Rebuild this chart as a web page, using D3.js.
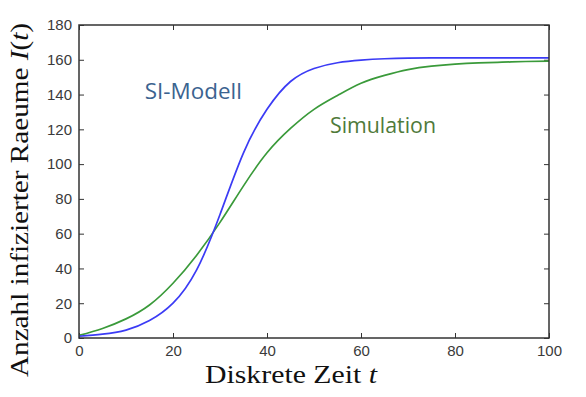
<!DOCTYPE html>
<html>
<head>
<meta charset="utf-8">
<script src="https://cdn.jsdelivr.net/npm/d3@7"></script>
<style>
  html, body { margin: 0; padding: 0; background: #fff; }
  svg { display: block; }
</style>
</head>
<body>
<div id="chart"></div>
<script>
// Zeitschritte und Werte
var timeSteps  = [0, 5, 10, 15, 20, 25, 30, 35, 40, 45, 50, 55, 60, 65, 70, 75, 80, 85, 90, 95, 100];
var siModell   = [1, 2.2, 4.5, 10, 20, 39, 71, 106.5, 131.5, 147.5, 155, 158.3, 159.8, 160.6, 161, 161.1, 161.1, 161.1, 161.1, 161.1, 161.1];
var simulation = [1.5, 5.5, 11, 19, 31.5, 47.5, 66.5, 87.5, 106.5, 120.5, 131.5, 139.5, 146.5, 151, 154.3, 156.3, 157.5, 158.2, 158.6, 159, 159.2];

var xTicks = [0, 20, 40, 60, 80, 100];
var yTicks = [0, 20, 40, 60, 80, 100, 120, 140, 160, 180];

var labels = [
  {text: "SI-Modell",  t: 14,   v: 137.5, color: "#3b6390", len: 97},
  {text: "Simulation", t: 53.4, v: 118,   color: "#4f7a3a", len: 106}
];

var W = 586, H = 397;
var margin = {left: 79, right: 37, top: 25, bottom: 59};
var w = W - margin.left - margin.right,
    h = H - margin.top - margin.bottom;

var svg = d3.select("#chart").append("svg")
  .attr("width", W)
  .attr("height", H);

var g = svg.append("g")
  .attr("transform", "translate(" + margin.left + "," + margin.top + ")");

var x = d3.scaleLinear().domain([0, 100]).range([0, w]);
var y = d3.scaleLinear().domain([0, 180]).range([h, 0]);

var tickFont = "'Liberation Sans', Arial, sans-serif";
var tickColor = "#3a3a3a";

function styleAxis(sel) {
  sel.select(".domain").remove();
  sel.selectAll("line").attr("stroke", "#333").attr("stroke-width", 1);
  sel.selectAll("text")
    .attr("font-family", tickFont)
    .attr("font-size", 15)
    .attr("fill", tickColor);
}

g.append("g")
  .attr("transform", "translate(0," + h + ")")
  .call(d3.axisBottom(x).tickValues(xTicks).tickSizeInner(-5).tickSizeOuter(0).tickPadding(7))
  .call(styleAxis);

g.append("g")
  .call(d3.axisLeft(y).tickValues(yTicks).tickSizeInner(-5).tickSizeOuter(0).tickPadding(7))
  .call(styleAxis);

g.append("g")
  .call(d3.axisTop(x).tickValues(xTicks).tickSizeInner(-5).tickSizeOuter(0).tickFormat(""))
  .call(styleAxis);

g.append("g")
  .attr("transform", "translate(" + w + ",0)")
  .call(d3.axisRight(y).tickValues(yTicks).tickSizeInner(-5).tickSizeOuter(0).tickFormat(""))
  .call(styleAxis);

var line = d3.line()
  .x(function(d){ return x(d[0]); })
  .y(function(d){ return y(d[1]); })
  .curve(d3.curveNatural);

g.append("path")
  .attr("d", line(d3.zip(timeSteps, simulation)))
  .attr("fill", "none")
  .attr("stroke", "#3a9a3a")
  .attr("stroke-width", 1.7);

g.append("path")
  .attr("d", line(d3.zip(timeSteps, siModell)))
  .attr("fill", "none")
  .attr("stroke", "#3b3bf5")
  .attr("stroke-width", 1.7);

// Rahmen
g.append("rect")
  .attr("width", w)
  .attr("height", h)
  .attr("fill", "none")
  .attr("stroke", "#333")
  .attr("stroke-width", 1.5);

// Beschriftungen im Diagramm
g.selectAll("text.anno")
  .data(labels)
  .enter().append("text")
  .attr("class", "anno")
  .attr("x", function(d){ return x(d.t); })
  .attr("y", function(d){ return y(d.v); })
  .attr("font-family", "'Open Sans', 'Noto Sans', sans-serif")
  .attr("font-size", 21)
  .attr("fill", function(d){ return d.color; })
  .attr("textLength", function(d){ return d.len; })
  .attr("lengthAdjust", "spacingAndGlyphs")
  .text(function(d){ return d.text; });

// Achsentitel
var serif = "'Liberation Serif', 'DejaVu Serif', serif";

var xl = svg.append("text")
  .attr("x", margin.left + w / 2 - 23)
  .attr("y", 383)
  .attr("text-anchor", "middle")
  .attr("font-family", serif)
  .attr("font-size", 26)
  .attr("fill", "#111")
  .attr("textLength", 172)
  .attr("lengthAdjust", "spacingAndGlyphs");
xl.append("tspan").text("Diskrete Zeit ");
xl.append("tspan").attr("font-style", "italic").text("t");

var yl = svg.append("text")
  .attr("transform", "translate(28,200) rotate(-90)")
  .attr("text-anchor", "middle")
  .attr("font-family", serif)
  .attr("font-size", 26)
  .attr("fill", "#111")
  .attr("textLength", 354)
  .attr("lengthAdjust", "spacingAndGlyphs");
yl.append("tspan").text("Anzahl infizierter Raeume ");
yl.append("tspan").attr("font-style", "italic").text("I");
yl.append("tspan").text("(");
yl.append("tspan").attr("font-style", "italic").text("t");
yl.append("tspan").text(")");
</script>
</body>
</html>
